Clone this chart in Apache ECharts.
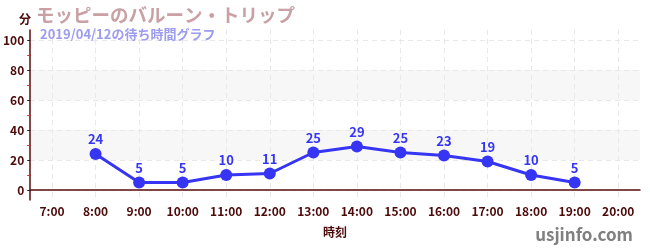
<!DOCTYPE html>
<html>
<head>
<meta charset="utf-8">
<script src="https://cdn.jsdelivr.net/npm/echarts@6/dist/echarts.min.js"></script>
<style>html,body{margin:0;padding:0;background:#fff;}#c{width:650px;height:250px;}</style>
</head>
<body>
<div id="c"></div>
<script>
const categories = ['7:00','8:00','9:00','10:00','11:00','12:00','13:00','14:00','15:00','16:00','17:00','18:00','19:00','20:00'];
const waitTimes = [null,24,5,5,10,11,25,29,25,23,19,10,5,null];
const yMajorTicks = [0,20,40,60,80,100];
const yMinorTicks = [10,30,50,70,90];
const titleText = 'モッピーのバルーン・トリップ';
const subtitleText = '2019/04/12の待ち時間グラフ';

const FONT = '"Noto Sans CJK JP", "Noto Sans", sans-serif';
const DARK = '#4d0a0a';
const chart = echarts.init(document.getElementById('c'));
chart.setOption({
  animation: false,
  textStyle: { fontFamily: FONT },
  title: [
    { text: titleText, left: 31, top: 1, textStyle: { fontSize: 18.5, fontWeight: 'bold', color: '#c9a0a3', fontFamily: FONT } },
    { text: subtitleText, left: 35, top: 23, textStyle: { fontSize: 13, fontWeight: 'bold', color: '#9c9cf0', fontFamily: FONT } },
    { text: '分', left: 14, top: 8, textStyle: { fontSize: 12, fontWeight: 'bold', color: DARK, fontFamily: FONT } },
    { text: 'usjinfo.com', right: 12, top: 221, textStyle: { fontSize: 17, fontWeight: 'bold', color: '#808080', fontFamily: FONT } }
  ],
  grid: [
    { left: 30, right: 10, top: 30, bottom: 50 },
    { left: 30, right: 10, top: 40, bottom: 60 }
  ],
  xAxis: [
    {
      type: 'category', gridIndex: 0, data: categories, boundaryGap: true,
      name: '時刻', nameLocation: 'middle', nameGap: 26,
      nameTextStyle: { fontSize: 12, fontWeight: 'bold', color: DARK },
      axisLine: { lineStyle: { color: '#5a0c0c', width: 1.5 } },
      axisTick: { alignWithLabel: true, inside: true, length: 5, lineStyle: { color: '#888' } },
      axisLabel: { color: DARK, fontSize: 12, fontWeight: 'bold', margin: 5 },
      splitLine: { show: true, alignWithLabel: true, lineStyle: { color: '#e8e8e8', type: [5, 4] } }
    },
    { type: 'category', gridIndex: 1, data: categories, show: false }
  ],
  yAxis: [
    {
      type: 'value', gridIndex: 0, min: -20/3, max: 320/3,
      axisLine: { show: true, lineStyle: { color: '#5a0c0c', width: 1.5 } },
      axisTick: { show: true, length: 3, customValues: yMajorTicks, lineStyle: { color: '#222' } },
      axisLabel: { customValues: yMajorTicks, color: DARK, fontSize: 12, fontWeight: 'bold', margin: 6 },
      splitLine: { show: false }
    },
    {
      type: 'value', gridIndex: 0, min: -20/3, max: 320/3, position: 'left',
      axisLine: { show: false },
      axisTick: { show: true, length: 3, customValues: yMinorTicks, lineStyle: { color: '#dd2222' } },
      axisLabel: { show: false },
      splitLine: { show: false }
    },
    {
      type: 'value', gridIndex: 1, min: 0, max: 100, interval: 20,
      axisLine: { show: false }, axisTick: { show: false }, axisLabel: { show: false },
      splitLine: { show: true, lineStyle: { color: '#e8e8e8', type: [5, 4] } },
      splitArea: { show: true, areaStyle: { color: ['rgba(255,255,255,0)', '#f7f7f7'] } }
    }
  ],
  series: [{
    type: 'line', xAxisIndex: 0, yAxisIndex: 0, data: waitTimes,
    symbol: 'circle', symbolSize: 12,
    lineStyle: { color: '#3535f3', width: 3 },
    itemStyle: { color: '#3535f3' },
    label: { show: true, position: 'top', distance: 2, color: '#3535f3', fontSize: 13, fontWeight: 'bold' },
    z: 5
  }]
});
</script>
</body>
</html>
